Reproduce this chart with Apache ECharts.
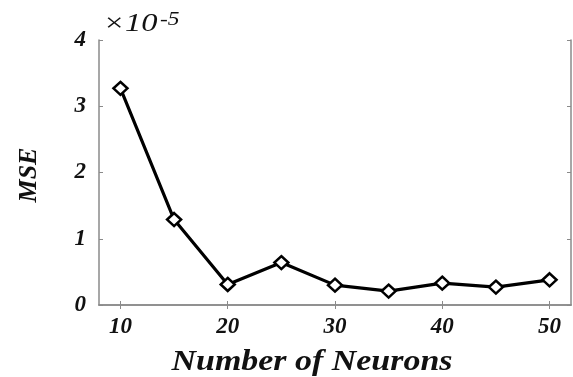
<!DOCTYPE html>
<html>
<head>
<meta charset="UTF-8">
<title>MSE vs Number of Neurons</title>
<script src="https://cdn.jsdelivr.net/npm/echarts@6.0.0/dist/echarts.min.js"></script>
<style>
  html, body { margin: 0; padding: 0; background: #fff; }
  #chart { width: 573px; height: 377px; }
</style>
</head>
<body>
<div id="chart"></div>
<script>
// data (MSE shown in units of 1e-5)
var neurons = [10, 15, 20, 25, 30, 35, 40, 45, 50];
var mse = [3.27, 1.29, 0.31, 0.64, 0.30, 0.21, 0.33, 0.27, 0.38];
var xTicks = [10, 20, 30, 40, 50];
var yTicks = [0, 1, 2, 3, 4];

var font = "'Liberation Serif', 'Times New Roman', serif";
var axisGrey = '#8a8a8a';

var chart = echarts.init(document.getElementById('chart'));

var tickStyle = { show: true, inside: true, length: 4, lineStyle: { color: axisGrey, width: 1 } };

chart.setOption({
    animation: false,
    grid: { left: 99, right: 2, top: 40, bottom: 72 },
    xAxis: [{
        type: 'value', min: 8, max: 52,
        axisLine: { show: true, onZero: false, lineStyle: { color: axisGrey, width: 1.5 } },
        axisTick: Object.assign({ customValues: xTicks }, tickStyle),
        axisLabel: {
            customValues: xTicks, margin: 11,
            fontFamily: font, fontSize: 23, fontWeight: 'bold', fontStyle: 'italic', color: '#111'
        },
        splitLine: { show: false }
    }, {
        type: 'value', min: 8, max: 52, position: 'top',
        axisLine: { show: true, lineStyle: { color: axisGrey, width: 1.5 } },
        axisTick: Object.assign({ customValues: xTicks }, tickStyle),
        axisLabel: { show: false },
        splitLine: { show: false }
    }],
    yAxis: [{
        type: 'value', min: 0, max: 4, interval: 1,
        axisLine: { show: true, lineStyle: { color: axisGrey, width: 1.5 } },
        axisTick: Object.assign({ customValues: yTicks }, tickStyle),
        axisLabel: {
            customValues: yTicks, margin: 13,
            fontFamily: font, fontSize: 23, fontWeight: 'bold', fontStyle: 'italic', color: '#111'
        },
        splitLine: { show: false }
    }, {
        type: 'value', min: 0, max: 4, interval: 1, position: 'right',
        axisLine: { show: true, lineStyle: { color: axisGrey, width: 1.5 } },
        axisTick: tickStyle,
        axisLabel: { show: false },
        splitLine: { show: false }
    }],
    graphic: [{
        // exponent label above the y axis
        type: 'text', x: 103, y: 37, scaleX: 1.3,
        style: {
            text: '×10', verticalAlign: 'bottom',
            fontFamily: font, fontSize: 25, fontStyle: 'italic', fill: '#111'
        }
    }, {
        type: 'text', x: 160, y: 11, scaleX: 1.3,
        style: {
            text: '-5', verticalAlign: 'top',
            fontFamily: font, fontSize: 18, fontStyle: 'italic', fill: '#111'
        }
    }, {
        type: 'text', x: 312, y: 363, scaleX: 1.17,
        style: {
            text: 'Number of Neurons', align: 'center', verticalAlign: 'middle',
            fontFamily: font, fontSize: 29, fontWeight: 'bold', fontStyle: 'italic', fill: '#111'
        }
    }, {
        type: 'text', x: 29, y: 175, rotation: Math.PI / 2,
        style: {
            text: 'MSE', align: 'center', verticalAlign: 'middle',
            fontFamily: font, fontSize: 26, fontWeight: 'bold', fontStyle: 'italic', fill: '#111'
        }
    }],
    series: [{
        type: 'line',
        data: neurons.map(function (n, i) { return [n, mse[i]]; }),
        symbol: 'diamond', symbolSize: [14, 13],
        lineStyle: { color: '#000', width: 3.2 },
        itemStyle: { color: '#fff', borderColor: '#000', borderWidth: 2.5 }
    }]
});
</script>
</body>
</html>
